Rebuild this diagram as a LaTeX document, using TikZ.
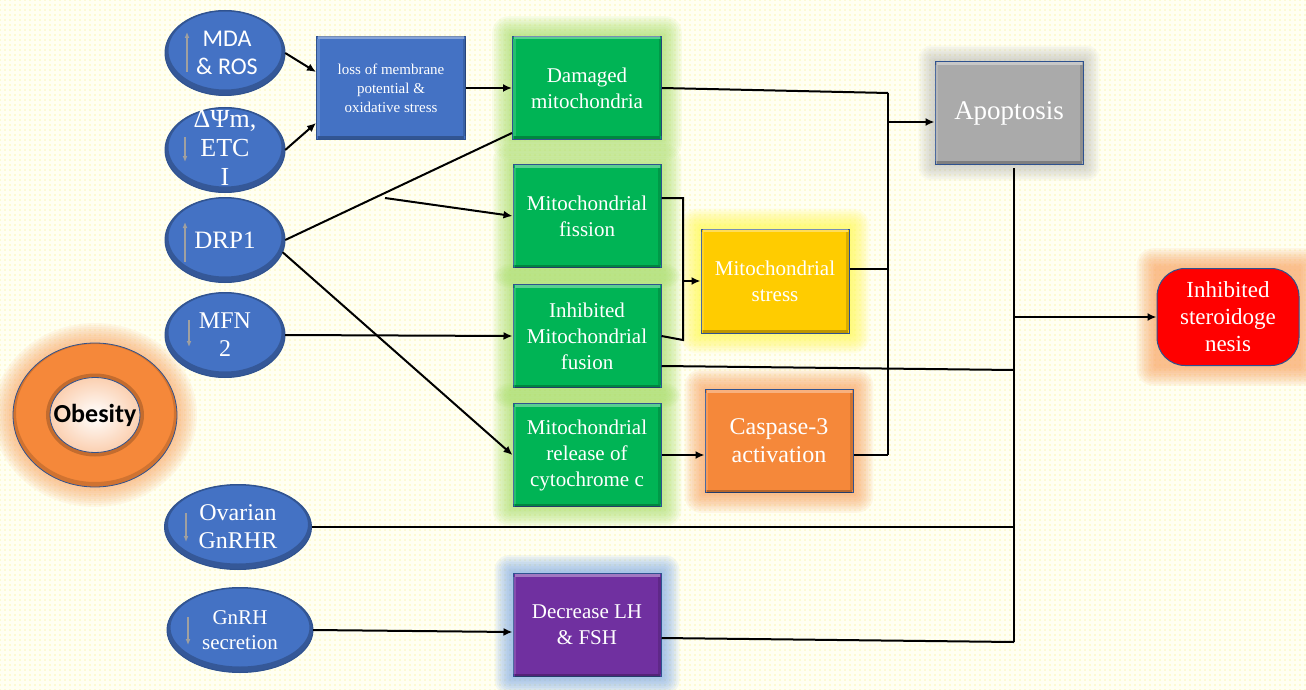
\documentclass[tikz,border=0pt]{standalone}
\usepackage{fontspec}
\setmainfont{Liberation Serif}
\newfontfamily\tnr{Liberation Serif}
\newfontfamily\calib{Carlito}
\usetikzlibrary{arrows.meta,shapes.geometric,patterns.meta}
\pgfdeclarelayer{bg}
\pgfdeclarelayer{glow}
\pgfsetlayers{bg,glow,main}
\definecolor{bgcol}{RGB}{255,255,242}
\definecolor{dotcol}{RGB}{250,235,110}
\definecolor{ellblue}{RGB}{68,114,196}
\definecolor{ellline}{RGB}{47,82,143}
\definecolor{boxgreen}{RGB}{0,180,85}
\definecolor{glowgreen}{RGB}{165,222,100}
\definecolor{boxyellow}{RGB}{255,204,0}
\definecolor{glowyellow}{RGB}{255,250,70}
\definecolor{boxorange}{RGB}{245,136,58}
\definecolor{gloworange}{RGB}{250,160,90}
\definecolor{boxgray}{RGB}{170,170,170}
\definecolor{glowgray}{RGB}{160,160,160}
\definecolor{boxred}{RGB}{255,0,0}
\definecolor{boxpurple}{RGB}{112,48,160}
\definecolor{glowblue}{RGB}{120,165,230}
\definecolor{arrgray}{RGB}{160,160,160}
\newcommand{\fs}[2]{\fontsize{#1}{#2}\selectfont}
\newcommand{\glowbox}[4]{%
  \foreach \k [evaluate=\k as \d using \k*1.8, evaluate=\k as \r using \k*1.5] in {1,...,#3}{%
    \fill[#2, opacity=#4, rounded corners=\r pt] ([shift={(-\d pt,-\d pt)}]#1.south west) rectangle ([shift={(\d pt,\d pt)}]#1.north east);}}
\newcommand{\bevel}[1]{%
  \draw[white, opacity=0.35, line width=3pt] ([shift={(2pt,-2pt)}]#1.north west) -- ([shift={(-2pt,-2pt)}]#1.north east);
  \draw[black, opacity=0.25, line width=3pt] ([shift={(2pt,2pt)}]#1.south west) -- ([shift={(-2pt,2pt)}]#1.south east);
  \draw[black, opacity=0.15, line width=3pt] ([shift={(-2pt,-3.5pt)}]#1.north east) -- ([shift={(-2pt,3.5pt)}]#1.south east);
  \draw[white, opacity=0.15, line width=3pt] ([shift={(2pt,-3.5pt)}]#1.north west) -- ([shift={(2pt,3.5pt)}]#1.south west);}
\newcommand{\ellbevel}[3]{%
  \begin{scope}
    \clip (#1.center) ellipse [x radius=#2, y radius=#3];
    \draw[black, opacity=0.22, line width=7pt] ([yshift=2.5pt]#1.center) ellipse [x radius=#2, y radius=#3];
  \end{scope}
  \draw[ellline, line width=1pt] (#1.center) ellipse [x radius=#2, y radius=#3];}
\tikzset{
  ell/.style={ellipse, fill=ellblue, minimum width=120pt, minimum height=85pt, inner sep=0pt},
  elltext/.style={text=white, align=center, inner sep=0pt},
  box/.style={rectangle, draw=ellline, line width=1pt, minimum width=148pt, minimum height=103pt, inner sep=0pt, text=white, align=center},
  conn/.style={line width=2pt, black},
  arr/.style={conn, -{Latex[length=9pt,width=8pt]}},
  updn/.style={draw=arrgray, line width=1.5pt, -{Latex[length=6pt,width=5pt]}}
}
\begin{document}
\begin{tikzpicture}[x=1pt,y=-1pt]
\useasboundingbox (0,0) rectangle (1306,690);
\begin{pgfonlayer}{bg}
  \fill[bgcol] (0,0) rectangle (1306,690);
  \fill[pattern={Dots[radius=0.55pt,distance=5pt]}, pattern color=dotcol] (0,0) rectangle (1306,690);
\end{pgfonlayer}

% ellipses (shape) and their texts
\node[ell] (mda) at (225,53) {};
\node[ell] (dpsi) at (225,150) {};
\node[ell] (drp) at (225,240) {};
\node[ell] (mfn) at (225,335) {};
\node[ell, minimum width=147pt] (ova) at (238,527) {};
\node[ell, minimum width=146pt] (gnrh) at (240,630) {};
\foreach \n in {mda,dpsi,drp,mfn}{\ellbevel{\n}{60pt}{42.5pt}}
\ellbevel{ova}{73.5pt}{42.5pt}
\ellbevel{gnrh}{73pt}{42.5pt}
\node[elltext, font=\calib\fs{24}{28}] (mdat) at ([xshift=2pt]mda.center) {MDA\\\& ROS};
\node[elltext, font=\tnr\fs{26}{29}] (dpsit) at ([yshift=2pt]dpsi.center) {ΔΨm,\\ETC\\I};
\node[elltext, font=\tnr\fs{25}{29}] (drpt) at (drp.center) {DRP1};
\node[elltext, font=\tnr\fs{24}{28}] (mfnt) at (mfn.center) {MFN\\2};
\node[elltext, font=\tnr\fs{24}{28}] (ovat) at (ova.center) {Ovarian\\GnRHR};
\node[elltext, font=\tnr\fs{21}{25}] (gnrht) at (gnrh.center) {GnRH\\secretion};

% small arrows
\draw[updn] ([xshift=-38pt,yshift=-19pt]mda.center) -- ([xshift=-38pt,yshift=21pt]mda.center);
\draw[updn] ([xshift=-40pt,yshift=13pt]dpsi.center) -- ([xshift=-40pt,yshift=-12pt]dpsi.center);
\draw[updn] ([xshift=-40pt,yshift=-22pt]drp.center) -- ([xshift=-40pt,yshift=18pt]drp.center);
\draw[updn] ([xshift=-36pt,yshift=15pt]mfn.center) -- ([xshift=-36pt,yshift=-12pt]mfn.center);
\draw[updn] ([xshift=-52pt,yshift=14pt]ova.center) -- ([xshift=-52pt,yshift=-15pt]ova.center);
\draw[updn] ([xshift=-52pt,yshift=13pt]gnrh.center) -- ([xshift=-52pt,yshift=-15pt]gnrh.center);

% obesity donut
\node[ellipse, minimum width=164pt, minimum height=144pt, inner sep=0pt] (obe) at (95,415) {};
\begin{pgfonlayer}{glow}
  \foreach \k [evaluate=\k as \a using 82+\k*2, evaluate=\k as \b using 72+\k*2] in {1,...,10}{%
    \fill[gloworange, opacity=0.08] (obe.center) ellipse [x radius=\a pt, y radius=\b pt];}
\end{pgfonlayer}
\fill[boxorange, even odd rule] (obe.center) ellipse [x radius=82pt, y radius=72pt] (obe.center) ellipse [x radius=45pt, y radius=37.5pt];
\shade[inner color=white, outer color=boxorange!40] (obe.center) ellipse [x radius=45pt, y radius=37.5pt];
\begin{scope}
  \clip (obe.center) ellipse [x radius=82pt, y radius=72pt];
  \draw[black, opacity=0.15, line width=6pt] ([yshift=2pt]obe.center) ellipse [x radius=82pt, y radius=72pt];
\end{scope}
\draw[black, opacity=0.2, line width=4pt] (obe.center) ellipse [x radius=47pt, y radius=39.5pt];
\draw[ellline, line width=0.8pt] (obe.center) ellipse [x radius=82pt, y radius=72pt];
\draw[ellline, line width=0.8pt] (obe.center) ellipse [x radius=45pt, y radius=37.5pt];
\node[font=\calib\bfseries\fs{26}{30}, text=black] (obetxt) at (obe.center) {Obesity};

% boxes
\node[box, minimum width=149pt, fill=ellblue, font=\tnr\fs{15}{19}] (loss) at (391,88) {loss of membrane\\potential \&\\oxidative stress};
\node[box, minimum width=149pt, fill=boxgreen, font=\tnr\fs{21}{26}] (dam) at (587,88) {Damaged\\mitochondria};
\node[box, fill=boxgreen, font=\tnr\fs{21}{26}] (fis) at (587,216) {Mitochondrial\\fission};
\node[box, fill=boxgreen, font=\tnr\fs{21}{26}] (fus) at (587,336) {Inhibited\\Mitochondrial\\fusion};
\node[box, fill=boxgreen, font=\tnr\fs{21}{26}] (cyto) at (587,455) {Mitochondrial\\release of\\cytochrome c};
\node[box, fill=boxpurple, font=\tnr\fs{21}{26}] (dec) at (587,625) {Decrease LH\\\& FSH};
\node[box, minimum height=104pt, fill=boxyellow, font=\tnr\fs{21}{26}] (str) at (775,281) {Mitochondrial\\stress};
\node[box, fill=boxorange, font=\tnr\fs{24}{28}] (cas) at (779,441) {Caspase-3\\activation};
\node[box, minimum height=102pt, fill=boxgray, font=\tnr\fs{27}{30}] (apo) at (1009,113) {Apoptosis};
\node[rectangle, rounded corners=28pt, draw=ellline, line width=1pt, fill=boxred, minimum width=142pt, minimum height=97pt, inner sep=0pt, text=white, align=center, font=\tnr\fs{23}{27}] (ster) at (1228,317) {Inhibited\\steroidoge\\nesis};

\begin{pgfonlayer}{glow}
  \foreach \n in {dam,fis,fus,cyto}{\glowbox{\n}{glowgreen}{11}{0.085}}
  \glowbox{dec}{glowblue}{10}{0.09}
  \glowbox{str}{glowyellow}{11}{0.09}
  \glowbox{cas}{gloworange}{11}{0.085}
  \glowbox{apo}{glowgray}{9}{0.06}
  \glowbox{ster}{gloworange}{11}{0.085}
\end{pgfonlayer}
\foreach \n in {loss,dam,fis,fus,cyto,dec,str,cas,apo}{\bevel{\n}}

% junction coordinates
\coordinate (fs) at (385,198);
\coordinate (v1top) at (888,93);
\coordinate (v1bot) at (888,455);
\coordinate (v1a) at (888,122);
\coordinate (bk) at (683,281);
\coordinate (bkbot) at (683,340);
\coordinate (j2top) at (1014,168);
\coordinate (j2mid) at (1014,370);
\coordinate (j2s) at (1014,317);
\coordinate (j2bot) at (1014,642);

% connectors
\draw[arr] (mda.east) -- ([yshift=16pt]loss.west);
\draw[arr] (dpsi.east) -- ([yshift=-35pt]loss.west);
\draw[arr] (loss.east) -- (dam.west);
\draw[conn] (drp.east) -- ([yshift=7pt]dam.south west);
\draw[arr] (fs) -- (fis.west);
\draw[arr] (drp.-12) -- (cyto.west);
\draw[arr] (mfn.east) -- (fus.west);
\draw[conn] (dam.east) -- (v1top);
\draw[conn] (v1top) -- (v1bot);
\draw[arr] (v1a) -- (v1a -| apo.west);
\draw[conn] ([yshift=12pt]str.east) -- ([yshift=12pt]str.east -| v1top);
\draw[conn] ([yshift=-14pt]cas.east) -- (v1bot);
\draw[conn] ([yshift=18pt]fis.east) -| (bkbot) -- (fus.east);
\draw[arr] (bk) -- (str.west);
\draw[arr] (cyto.east) -- (cyto.east -| cas.west);
\draw[conn] ([yshift=-30pt]fus.east) -- (j2mid);
\draw[conn] (j2top) -- (j2bot);
\draw[arr] (j2s) -- (ster.west);
\draw[conn] (ova.east) -- (ova.east -| j2top);
\draw[arr] (gnrh.east) -- ([yshift=-7pt]dec.west);
\draw[conn] ([yshift=-13pt]dec.east) -- (j2bot);
\end{tikzpicture}
\end{document}
